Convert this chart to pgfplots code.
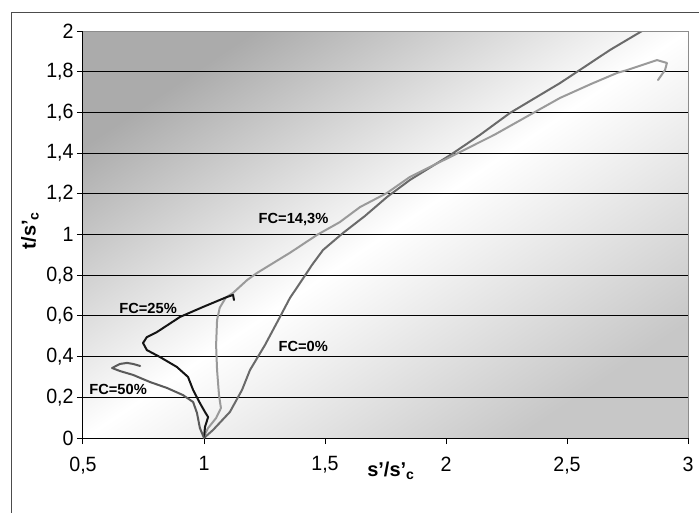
\documentclass[border=0pt]{standalone}
\usepackage{pgfplots}
\pgfplotsset{compat=1.18}
\usepackage{fontspec}
\setmainfont{Liberation Sans}
\newfontfamily\tickfont[FakeStretch=0.95]{Liberation Sans}
\definecolor{cZero}{HTML}{6A6A6A}
\definecolor{cFourteen}{HTML}{9A9A9A}
\definecolor{cTwentyFive}{HTML}{141414}
\definecolor{cFifty}{HTML}{5A5A5A}
\begin{document}
\begin{tikzpicture}
\useasboundingbox (-62.25pt,-55.5pt) rectangle (462pt,328.5pt);
\draw[black!70, line width=0.75pt] (-53.25pt,-80pt) -- (-53.25pt,319.5pt) -- (480pt,319.5pt);
\begin{axis}[
  scale only axis, width=453.75pt, height=305.25pt,
  xmin=0.5, xmax=3, ymin=0, ymax=2,
  axis lines*=left,
  axis line style={black, line width=0.75pt},
  tick align=outside, major tick length=4.5pt,
  tick style={black, line width=0.75pt},
  xtick={0.5,1,1.5,2,2.5,3},
  ytick={0,0.2,0.4,0.6,0.8,1,1.2,1.4,1.6,1.8,2},
  /pgf/number format/.cd, use comma, 1000 sep={}, assume math mode=true, /pgfplots/.cd,
  tick label style={font=\tickfont\fontsize{15.5pt}{17pt}\selectfont},
  xticklabel style={yshift=-6pt},
  yticklabel style={xshift=1pt},
  ymajorgrids, major grid style={black, line width=0.75pt},
  axis background/.style={shade, top color=black!33, bottom color=black!22, middle color=white, shading angle=34},
  xlabel={s'/s'\textsubscript{c}},
  ylabel={t/s'\textsubscript{c}},
  xlabel style={at={(axis description cs:0.509,-0.08)}, anchor=center, font=\bfseries\fontsize{15pt}{17pt}\selectfont},
  ylabel style={at={(axis description cs:-0.0876,0.51)}, anchor=center, font=\bfseries\fontsize{15pt}{17pt}\selectfont},
  after end axis/.code={\draw[black!45, line width=0.75pt] (rel axis cs:0,1) -- (rel axis cs:1,1) -- (rel axis cs:1,0);},
  every axis plot/.append style={line width=1.5pt, line join=round, line cap=round, no marks},
]
% FC = 0%
\addplot[cZero] coordinates {
(1.0,0.0) (1.037,0.039) (1.107,0.128) (1.157,0.236) (1.19,0.334) (1.252,0.457)
(1.314,0.595) (1.355,0.688) (1.397,0.762) (1.446,0.85) (1.492,0.924) (1.574,1.007)
(1.665,1.091) (1.756,1.184) (1.851,1.268) (2.017,1.39) (2.14,1.489) (2.264,1.597)
(2.409,1.70) (2.471,1.744) (2.541,1.799) (2.678,1.907) (2.81,2.0)
};
% FC = 14.3%
\addplot[cFourteen] coordinates {
(1.0,0.01) (1.017,0.049) (1.05,0.098) (1.07,0.147) (1.062,0.211) (1.054,0.334)
(1.05,0.457) (1.054,0.58) (1.065,0.64) (1.09,0.69) (1.12,0.713) (1.178,0.776)
(1.219,0.811) (1.326,0.889) (1.355,0.91) (1.467,0.998) (1.56,1.06) (1.645,1.135)
(1.756,1.204) (1.851,1.283) (2.017,1.381) (2.2,1.49) (2.36,1.597) (2.471,1.671)
(2.6,1.74) (2.707,1.794) (2.748,1.808) (2.872,1.857) (2.913,1.843) (2.905,1.808)
(2.876,1.759)
};
% FC = 25%
\addplot[cTwentyFive] coordinates {
(1.0,0.0) (1.004,0.054) (1.017,0.103) (1.004,0.128) (0.983,0.172) (0.955,0.236)
(0.934,0.30) (0.888,0.349) (0.818,0.398) (0.764,0.432) (0.748,0.467) (0.764,0.496)
(0.806,0.521) (0.901,0.595) (0.996,0.644) (1.095,0.693) (1.12,0.703) (1.124,0.678)
};
% FC = 50%
\addplot[cFifty] coordinates {
(1.0,0.0) (0.983,0.049) (0.971,0.123) (0.955,0.177) (0.913,0.211) (0.847,0.246)
(0.777,0.275) (0.707,0.31) (0.653,0.329) (0.62,0.344) (0.653,0.364) (0.682,0.369)
(0.707,0.364) (0.736,0.354)
};
\node[font=\bfseries\fontsize{11pt}{13pt}\selectfont] at (axis cs:1.37,1.076) {FC=14,3\%};
\node[font=\bfseries\fontsize{11pt}{13pt}\selectfont] at (axis cs:1.41,0.452) {FC=0\%};
\node[font=\bfseries\fontsize{11pt}{13pt}\selectfont] at (axis cs:0.769,0.639) {FC=25\%};
\node[font=\bfseries\fontsize{11pt}{13pt}\selectfont] at (axis cs:0.645,0.241) {FC=50\%};
\end{axis}
\end{tikzpicture}
\end{document}
